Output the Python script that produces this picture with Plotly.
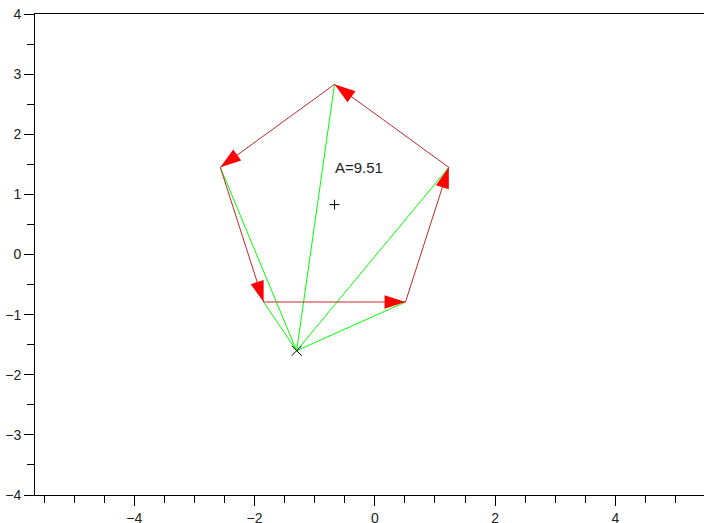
import plotly.graph_objects as go

# Pentagon vertices (counter-clockwise from bottom-left)
vert_x = [-1.85, 0.51, 1.23, -0.67, -2.57]
vert_y = [-0.79, -0.79, 1.45, 2.83, 1.45]
# centroid (+) and external point (x)
center_x, center_y = -0.67, 0.83
point_x, point_y = -1.30, -1.60
area_text = "A=9.51"
label_x, label_y = -0.67, 1.33

x_ticks = [-4, -2, 0, 2, 4]
y_ticks = [-4, -3, -2, -1, 0, 1, 2, 3, 4]

FONT = "Liberation Sans, Arial, Helvetica, sans-serif"

fig = go.Figure()

# green triangulation lines from the point to every vertex
gx, gy = [], []
for vx, vy in zip(vert_x, vert_y):
    gx += [point_x, vx, None]
    gy += [point_y, vy, None]
fig.add_trace(go.Scatter(x=gx, y=gy, mode="lines",
                         line=dict(color="#00ff00", width=1),
                         hoverinfo="skip", showlegend=False))

# red edges
ex = vert_x + [vert_x[0]]
ey = vert_y + [vert_y[0]]
fig.add_trace(go.Scatter(x=ex, y=ey, mode="lines",
                         line=dict(color="#c02828", width=1),
                         hoverinfo="skip", showlegend=False))

# arrowheads at the end of each edge
fig.add_trace(go.Scatter(x=ex, y=ey, mode="markers",
                         marker=dict(symbol="arrow", angleref="previous",
                                     size=[0] + [22] * (len(ex) - 1),
                                     color="#ff0000", opacity=1,
                                     line=dict(width=0)),
                         hoverinfo="skip", showlegend=False))

# centroid marker
fig.add_trace(go.Scatter(x=[center_x], y=[center_y], mode="markers",
                         marker=dict(symbol="cross-thin", size=7,
                                     line=dict(color="black", width=1)),
                         hoverinfo="skip", showlegend=False))
# point marker
fig.add_trace(go.Scatter(x=[point_x], y=[point_y], mode="markers",
                         marker=dict(symbol="x-thin", size=10,
                                     line=dict(color="black", width=1)),
                         hoverinfo="skip", showlegend=False))

fig.add_annotation(x=label_x, y=label_y, text=area_text, showarrow=False,
                   xanchor="left", yanchor="bottom", xshift=-2, yshift=-3,
                   font=dict(family=FONT, size=15, color="#222222"))

fig.update_xaxes(range=[-5.652, 5.475], tickvals=x_ticks, automargin=False,
                 ticklabeloverflow="allow",
                 ticks="outside", ticklen=10, tickcolor="black", tickwidth=1,
                 showline=True, linecolor="black", linewidth=1, mirror=True,
                 showgrid=False, zeroline=False,
                 minor=dict(dtick=0.5, ticks="outside", ticklen=7,
                            tickcolor="black", tickwidth=1, showgrid=False),
                 tickfont=dict(family=FONT, size=14, color="#222222"))
fig.update_yaxes(range=[-4, 4], tickvals=y_ticks, automargin=False,
                 ticklabeloverflow="allow",
                 ticks="outside", ticklen=10, tickcolor="black", tickwidth=1,
                 showline=True, linecolor="black", linewidth=1, mirror=False,
                 showgrid=False, zeroline=False,
                 minor=dict(dtick=0.5, ticks="outside", ticklen=7,
                            tickcolor="black", tickwidth=1, showgrid=False),
                 tickfont=dict(family=FONT, size=14, color="#222222"))

fig.update_layout(width=704, height=523,
                  margin=dict(l=35, r=0, t=14, b=28, pad=0),
                  paper_bgcolor="white", plot_bgcolor="white",
                  showlegend=False)

fig.write_html("out.html",
               config={"displayModeBar": False, "staticPlot": True},
               post_script="document.body.style.margin='0';"
                           "document.body.style.overflow='hidden';")
